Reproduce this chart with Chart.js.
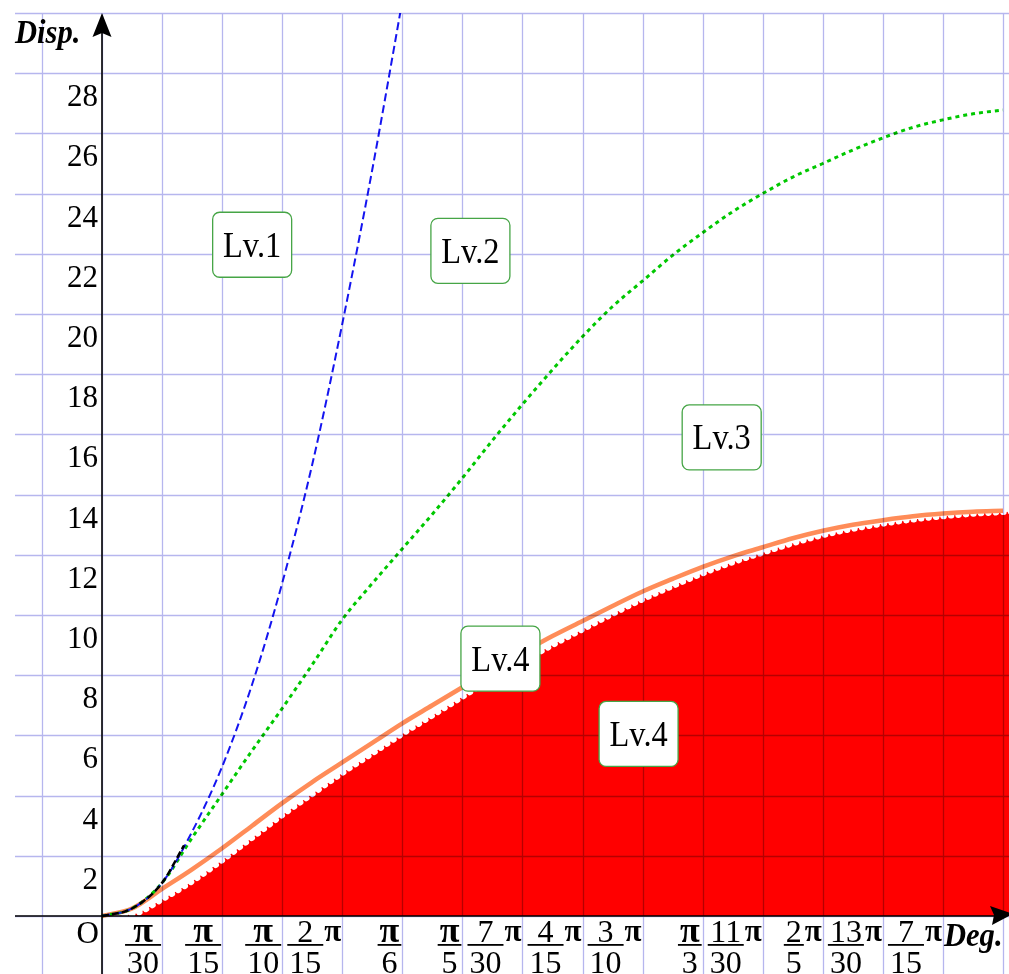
<!DOCTYPE html>
<html>
<head>
<meta charset="utf-8">
<script src="https://cdn.jsdelivr.net/npm/chart.js@4.4.1/dist/chart.umd.min.js"></script>
<style>
  html, body { margin: 0; padding: 0; background: #ffffff; }
  #wrap { width: 1009px; height: 974px; position: relative; }
</style>
</head>
<body>
<div id="wrap"><canvas id="c"></canvas></div>
<script>
// Displacement versus rotation angle (degrees), one boundary curve per level
const lv1Deg  = [0, 3, 6, 9, 12, 15, 18, 21, 24, 27, 30];
const lv1Disp = [0, 0.25, 1.1, 2.8, 4.96, 7.7, 11.06, 15.0, 19.67, 24.8, 30.4];

const lv2Deg  = [0, 3, 6, 9, 12, 15, 18, 21, 24, 27, 30, 33, 36, 39, 42, 45,
                 48, 51, 54, 57, 60, 63, 66, 69, 72, 75, 78, 81, 84, 87, 90];
const lv2Disp = [0, 0.25, 1.1, 2.6, 4.05, 5.5, 6.9, 8.35, 9.85, 11.05, 12.2, 13.35, 14.55, 15.8, 17.0, 18.15,
                 19.25, 20.25, 21.1, 21.95, 22.7, 23.4, 24.0, 24.55, 25.0, 25.45, 25.85, 26.2, 26.45, 26.65, 26.78];

const lv3Deg  = [0, 3, 6, 9, 12, 15, 18, 21, 24, 27, 30, 33, 36, 39, 42, 45,
                 48, 51, 54, 57, 60, 63, 66, 69, 72, 75, 78, 81, 84, 87, 90];
const lv3Disp = [0, 0.25, 0.9, 1.55, 2.25, 3.0, 3.75, 4.45, 5.1, 5.75, 6.4, 7.0, 7.6, 8.2, 8.75, 9.3,
                 9.8, 10.3, 10.78, 11.2, 11.6, 11.95, 12.25, 12.55, 12.8, 13.0, 13.15, 13.28, 13.37, 13.43, 13.46];

// top edge of the shaded Lv.4 region, which runs on to the right border
const areaDeg  = [0, 3, 6, 9, 12, 15, 18, 21, 24, 27, 30, 33, 36, 39, 42, 45,
                  48, 51, 54, 57, 60, 63, 66, 69, 72, 75, 78, 81, 84, 87, 90, 91];
const areaDisp = [0, 0.05, 0.55, 1.15, 1.85, 2.6, 3.35, 4.05, 4.75, 5.4, 6.05, 6.66, 7.28, 7.9, 8.45, 9.0,
                  9.52, 10.03, 10.52, 10.96, 11.38, 11.75, 12.07, 12.38, 12.65, 12.86, 13.03, 13.17, 13.28, 13.36, 13.42, 13.44];

// short common start segment near the origin
const baseDeg  = [0, 3, 6, 8.2];
const baseDisp = [0, 0.25, 1.1, 2.35];

// grid and tick labels
const gridDeg  = [-6, 0, 6, 12, 18, 24, 30, 36, 42, 48, 54, 60, 66, 72, 78, 84, 90];
const gridDisp = [0, 2, 4, 6, 8, 10, 12, 14, 16, 18, 20, 22, 24, 26, 28, 30];
const dispTicks = [2, 4, 6, 8, 10, 12, 14, 16, 18, 20, 22, 24, 26, 28];
const degTicks = [6, 12, 18, 24, 30, 36, 42, 48, 54, 60, 66, 72, 78, 84];
const degTickLabels = ['π/30', 'π/15', 'π/10', '2/15π', 'π/6', 'π/5', '7/30π', '4/15π',
                       '3/10π', 'π/3', '11/30π', '2/5π', '13/30π', '7/15π'];

// region labels
const levelLabels = [
  { text: 'Lv.1', deg: 15.0, disp: 22.3 },
  { text: 'Lv.2', deg: 36.8, disp: 22.1 },
  { text: 'Lv.3', deg: 61.9, disp: 15.9 },
  { text: 'Lv.4', deg: 39.8, disp: 8.55 },
  { text: 'Lv.4', deg: 53.6, disp: 6.05 }
];

const pts = (xs, ys) => xs.map((x, i) => ({ x: x, y: ys[i] }));

const SERIF = '"Liberation Serif", "Times New Roman", serif';
const DIGIT_FONT = '32px ' + SERIF;
const PI_FONT = 'bold 36px ' + SERIF;
const TRAIL_PI_FONT = 'bold 31px ' + SERIF;

function drawFraction(ctx, right, y0, label) {
  let s = label, trailing = false;
  if (s.endsWith('π') && !s.startsWith('π')) { trailing = true; s = s.slice(0, -1); }
  const parts = s.split('/');
  const num = parts[0], den = parts[1];
  const numFont = num === 'π' ? PI_FONT : DIGIT_FONT;
  ctx.font = numFont;
  const wn = ctx.measureText(num).width;
  ctx.font = DIGIT_FONT;
  const wd = ctx.measureText(den).width;
  ctx.font = TRAIL_PI_FONT;
  const wp = trailing ? ctx.measureText('π').width + 1 : 0;
  const barW = Math.max(wn, wd) + 4;
  const left = right - wp - barW;
  const cx = left + barW / 2;
  ctx.textBaseline = 'alphabetic';
  ctx.textAlign = 'center';
  ctx.font = numFont;
  ctx.fillText(num, cx, y0 + 26);
  ctx.fillRect(left, y0 + 28, barW, 1.8);
  ctx.font = DIGIT_FONT;
  ctx.fillText(den, cx, y0 + 57);
  if (trailing) {
    ctx.textAlign = 'left';
    ctx.font = TRAIL_PI_FONT;
    ctx.fillText('π', left + barW + 1, y0 + 25);
  }
}

function drawScaledText(ctx, text, x, y, font, sx, align) {
  ctx.save();
  ctx.font = font;
  ctx.textBaseline = 'alphabetic';
  const w = ctx.measureText(text).width * sx;
  let left = x;
  if (align === 'center') left = x - w / 2;
  else if (align === 'right') left = x - w;
  ctx.translate(left, y);
  ctx.scale(sx, 1);
  ctx.textAlign = 'left';
  ctx.fillText(text, 0, 0);
  ctx.restore();
}

// grid lines, multiplied over the filled area
const gridPlugin = {
  id: 'gridOverlay',
  afterDatasetsDraw(chart) {
    const { ctx, chartArea: a, scales: { x, y } } = chart;
    ctx.save();
    ctx.globalCompositeOperation = 'multiply';
    ctx.strokeStyle = 'rgb(182,182,238)';
    ctx.lineWidth = 1.3;
    ctx.beginPath();
    gridDeg.forEach(d => {
      const px = Math.round(x.getPixelForValue(d)) + 0.5;
      ctx.moveTo(px, a.top); ctx.lineTo(px, a.bottom);
    });
    gridDisp.forEach(v => {
      const py = Math.round(y.getPixelForValue(v)) + 0.5;
      ctx.moveTo(a.left, py); ctx.lineTo(a.right, py);
    });
    ctx.stroke();
    ctx.restore();
  }
};

// axes, arrows, tick labels, titles and level boxes
const decorPlugin = {
  id: 'decor',
  afterDraw(chart) {
    const { ctx, chartArea: a, scales: { x, y } } = chart;
    const x0 = x.getPixelForValue(0);
    const y0 = y.getPixelForValue(0);
    ctx.save();
    ctx.strokeStyle = '#000';
    ctx.fillStyle = '#000';
    ctx.lineWidth = 1.6;
    ctx.beginPath();
    ctx.moveTo(x0, a.bottom); ctx.lineTo(x0, a.top + 10);
    ctx.moveTo(a.left, y0); ctx.lineTo(a.right - 8, y0);
    ctx.stroke();

    // arrow heads
    ctx.beginPath();
    ctx.moveTo(x0, a.top);
    ctx.lineTo(x0 + 9.5, a.top + 24);
    ctx.lineTo(x0, a.top + 20);
    ctx.lineTo(x0 - 9.5, a.top + 24);
    ctx.closePath();
    ctx.fill();
    ctx.beginPath();
    ctx.moveTo(a.right + 4, y0 - 2);
    ctx.lineTo(a.right - 19, y0 - 10);
    ctx.lineTo(a.right - 15, y0 - 1);
    ctx.lineTo(a.right - 17, y0 + 9);
    ctx.closePath();
    ctx.fill();

    // vertical tick labels
    ctx.font = '31px ' + SERIF;
    ctx.textAlign = 'right';
    ctx.textBaseline = 'alphabetic';
    dispTicks.forEach(v => {
      ctx.fillText(String(v), x0 - 4, y.getPixelForValue(v) + 33);
    });
    ctx.fillText('O', x0 - 3, y0 + 27);

    // angle tick labels as fractions of π
    degTicks.forEach((d, i) => {
      const px = x.getPixelForValue(d);
      drawFraction(ctx, px - 1, y0, degTickLabels[i]);
    });

    // axis titles
    const titleFont = 'italic bold 34px ' + SERIF;
    drawScaledText(ctx, 'Disp.', a.left, a.top + 30, titleFont, 0.9, 'left');
    drawScaledText(ctx, 'Deg.', x.getPixelForValue(84) + 1, y0 + 30, titleFont, 0.9, 'left');

    // level boxes
    levelLabels.forEach(l => {
      const cx = x.getPixelForValue(l.deg);
      const cy = y.getPixelForValue(l.disp);
      const w = 79, h = 65;
      ctx.beginPath();
      ctx.roundRect(cx - w / 2, cy - h / 2, w, h, 7);
      ctx.fillStyle = '#ffffff';
      ctx.fill();
      ctx.strokeStyle = 'rgb(70,165,70)';
      ctx.lineWidth = 1.3;
      ctx.stroke();
      ctx.fillStyle = '#000';
      drawScaledText(ctx, l.text, cx, cy + 12, '36px ' + SERIF, 0.9, 'center');
    });
    ctx.restore();
  }
};

new Chart(document.getElementById('c'), {
  type: 'line',
  data: {
    datasets: [
      {
        label: 'Lv.4 area',
        data: pts(areaDeg, areaDisp),
        borderColor: '#ffffff',
        borderWidth: 6,
        borderDash: [0.5, 7],
        borderCapStyle: 'round',
        backgroundColor: 'rgb(255,0,0)',
        fill: 'origin',
        pointRadius: 0,
        cubicInterpolationMode: 'monotone',
        order: 5
      },
      {
        label: 'Lv.3',
        data: pts(lv3Deg, lv3Disp),
        borderColor: 'rgb(255,140,88)',
        borderWidth: 4.5,
        fill: false,
        pointRadius: 0,
        cubicInterpolationMode: 'monotone',
        order: 4
      },
      {
        label: 'Lv.2',
        data: pts(lv2Deg, lv2Disp),
        borderColor: 'rgb(0,200,0)',
        borderWidth: 3,
        borderDash: [4, 4],
        fill: false,
        pointRadius: 0,
        cubicInterpolationMode: 'monotone',
        order: 3
      },
      {
        label: 'Lv.1',
        data: pts(lv1Deg, lv1Disp),
        borderColor: 'rgb(20,20,240)',
        borderWidth: 2,
        borderDash: [8, 4],
        fill: false,
        pointRadius: 0,
        cubicInterpolationMode: 'monotone',
        clip: 0,
        order: 2
      },
      {
        label: 'base',
        data: pts(baseDeg, baseDisp),
        borderColor: '#000000',
        borderWidth: 2.5,
        borderDash: [7, 3],
        fill: false,
        pointRadius: 0,
        cubicInterpolationMode: 'monotone',
        order: 1
      }
    ]
  },
  options: {
    responsive: true,
    maintainAspectRatio: false,
    animation: false,
    layout: { padding: { left: 15, top: 13, right: 0, bottom: 0 } },
    plugins: { legend: { display: false }, tooltip: { enabled: false } },
    scales: {
      x: { type: 'linear', display: false, min: -8.69, max: 90.6 },
      y: { type: 'linear', display: false, min: -1.927, max: 30 }
    }
  },
  plugins: [gridPlugin, decorPlugin]
});
</script>
</body>
</html>
